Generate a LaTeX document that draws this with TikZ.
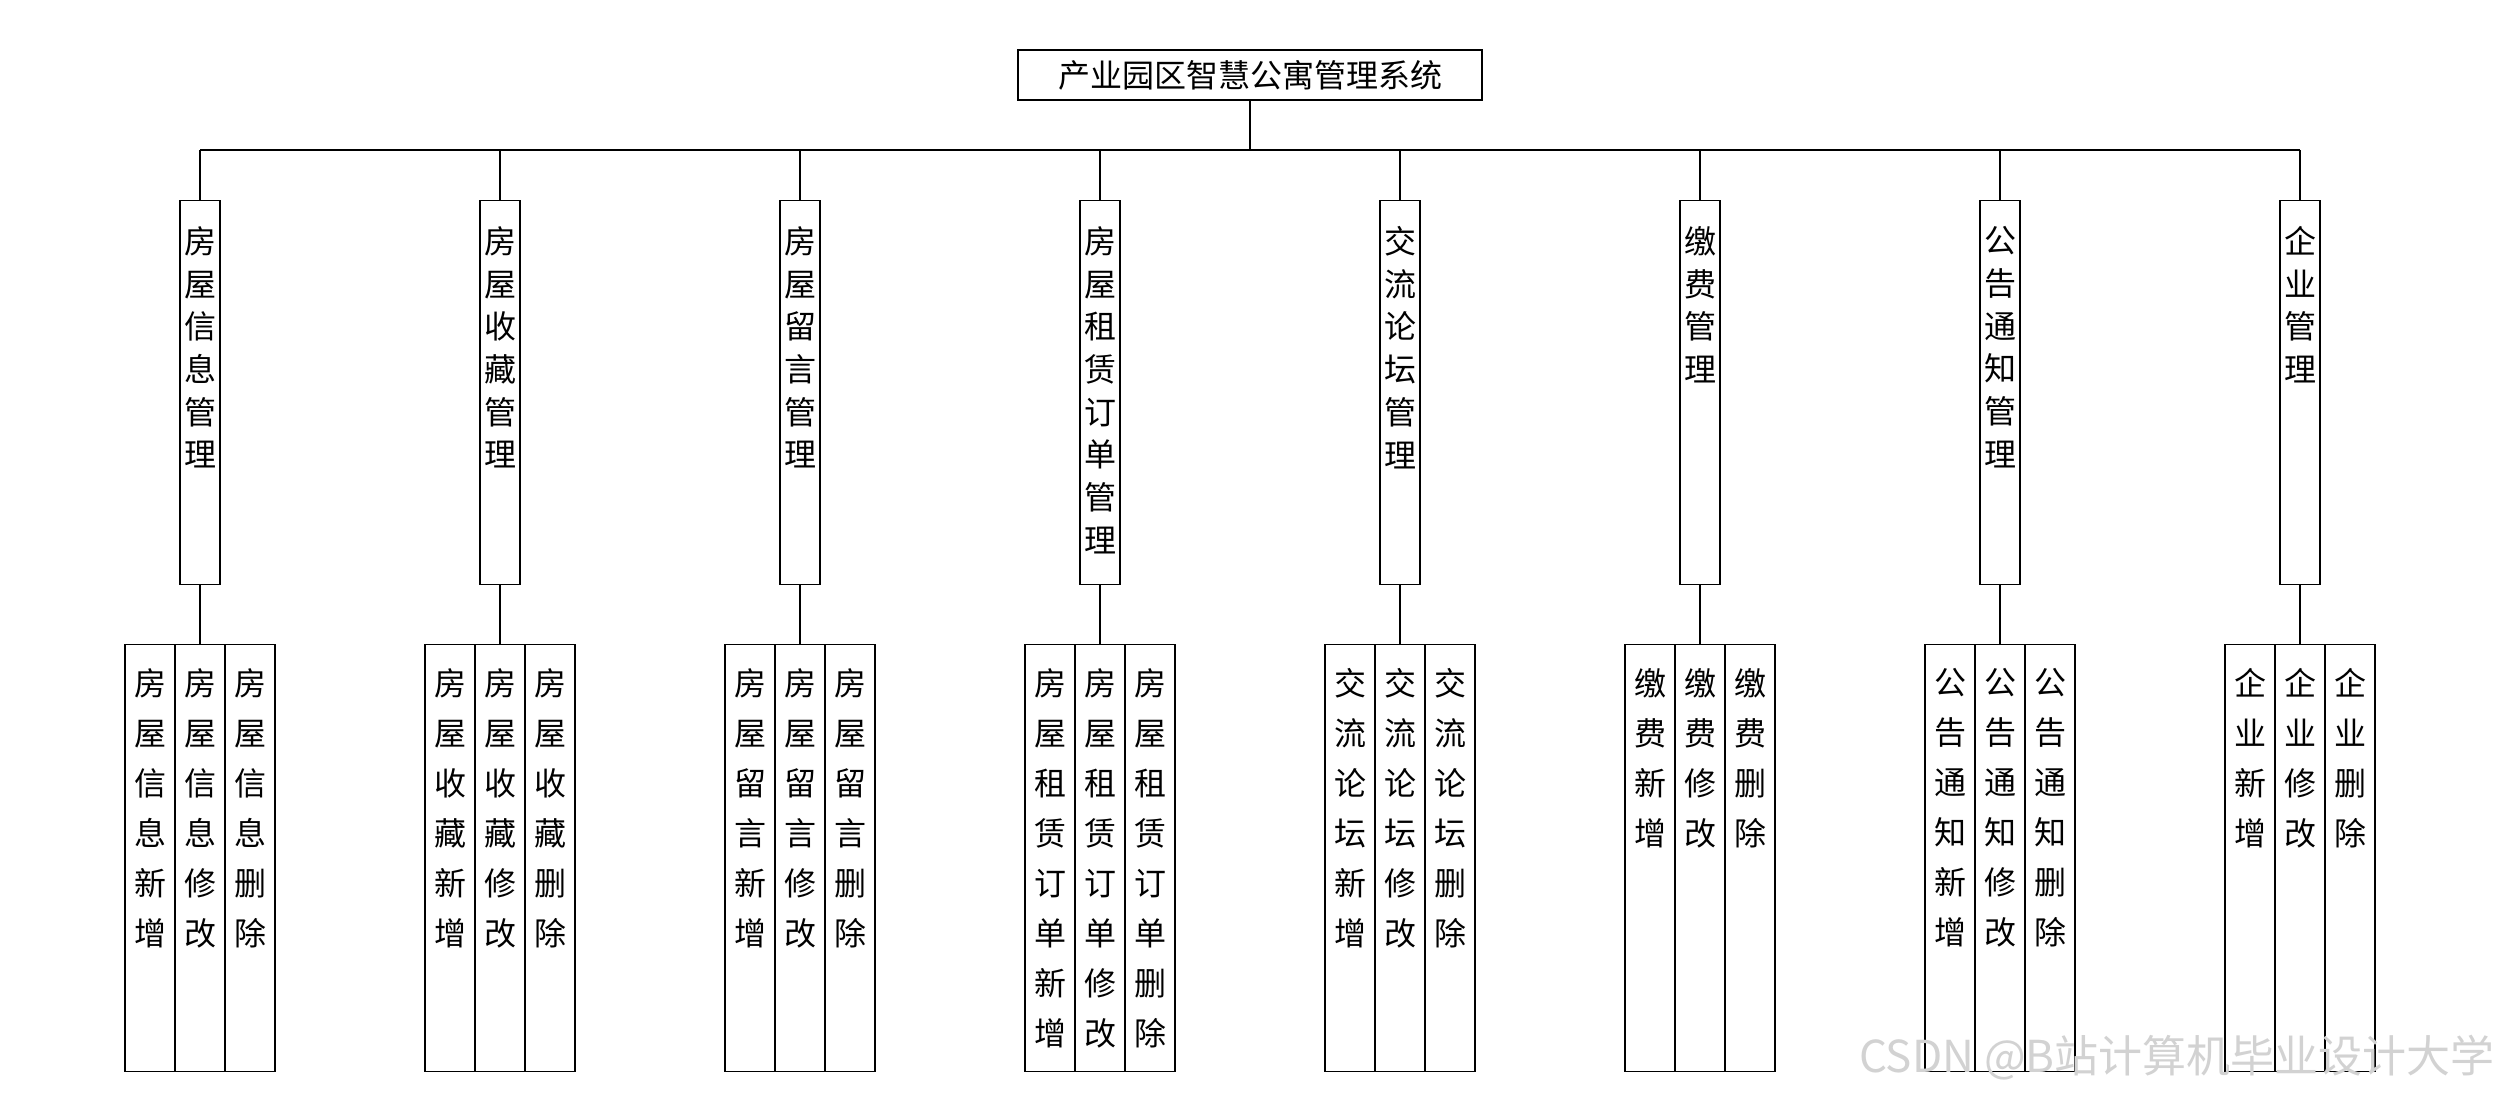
\documentclass[tikz,border=0pt]{standalone}
\usepackage{fontspec}
\setmainfont{Noto Sans CJK SC}
\begin{document}
\begin{tikzpicture}[x=0.5pt,y=-0.5pt,
  box/.style={draw, line width=0.7pt, inner sep=0pt},
  lbl/.style={anchor=north, inner sep=0pt, align=center, font=\fontsize{16pt}{21.35pt}\selectfont},
  slbl/.style={anchor=north, inner sep=0pt, align=center, font=\fontsize{16pt}{25pt}\selectfont},
  wire/.style={line width=0.6pt}]
\useasboundingbox[fill=white] (0,0) rectangle (2500,1100);
\node[box, line width=0.8pt, minimum width=232pt, minimum height=25pt, font=\fontsize{16pt}{16pt}\selectfont] (root) at (1250,75) {产业园区智慧公寓管理系统};
\coordinate (bus) at (1250,150);
\draw[wire] (root.south) -- (bus);
\foreach \i/\x/\t/\p in {
  1/200/{房\\屋\\信\\息\\管\\理}/{房\\屋\\信\\息},
  2/500/{房\\屋\\收\\藏\\管\\理}/{房\\屋\\收\\藏},
  3/800/{房\\屋\\留\\言\\管\\理}/{房\\屋\\留\\言},
  4/1100/{房\\屋\\租\\赁\\订\\单\\管\\理}/{房\\屋\\租\\赁\\订\\单},
  5/1400/{交\\流\\论\\坛\\管\\理}/{交\\流\\论\\坛},
  6/1700/{缴\\费\\管\\理}/{缴\\费},
  7/2000/{公\\告\\通\\知\\管\\理}/{公\\告\\通\\知},
  8/2300/{企\\业\\管\\理}/{企\\业}}{
  \node[box, anchor=north, minimum width=20pt, minimum height=192pt] (b\i) at (\x,200) {};
  \node[lbl] (bt\i) at ([yshift=-13pt]b\i.north) {\t};
  \node[box, anchor=north, minimum width=25pt, minimum height=213.5pt] (sa\i) at (\x-50,644) {};
  \node[box, anchor=north, minimum width=25pt, minimum height=213.5pt] (sb\i) at (\x,644) {};
  \node[box, anchor=north, minimum width=25pt, minimum height=213.5pt] (sc\i) at (\x+50,644) {};
  \node[slbl] (ta\i) at ([yshift=-12pt]sa\i.north) {\p\\新\\增};
  \node[slbl] (tb\i) at ([yshift=-12pt]sb\i.north) {\p\\修\\改};
  \node[slbl] (tc\i) at ([yshift=-12pt]sc\i.north) {\p\\删\\除};
  \draw[wire] (b\i.north) -- (b\i.north |- bus);
  \draw[wire] (b\i.south) -- (sb\i.north);
}
\draw[line width=0.9pt] (b1.north |- bus) -- (b8.north |- bus);
\node[anchor=east, inner sep=0pt, text=gray!35, font=\fontsize{22pt}{22pt}\selectfont] (wm) at (2495,1058) {CSDN @B站计算机毕业设计大学};
\end{tikzpicture}
\end{document}
